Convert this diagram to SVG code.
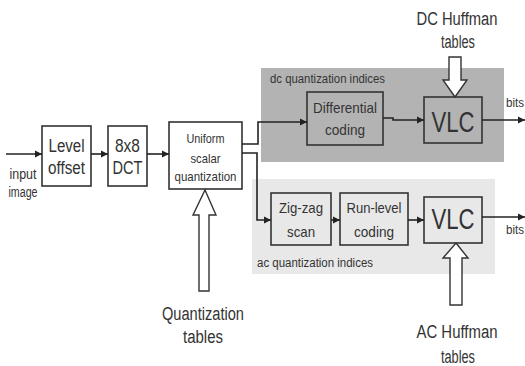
<svg xmlns="http://www.w3.org/2000/svg" width="525" height="366" viewBox="0 0 525 366">
<style>
text{font-family:"Liberation Sans Narrow","Liberation Sans",Arial,sans-serif;fill:#333;text-anchor:middle}
.box{fill:none;stroke:#333;stroke-width:1.6}
.wbox{fill:#fff;stroke:#333;stroke-width:1.6}
.line{fill:none;stroke:#222;stroke-width:1.6}
.hollow{fill:#fff;stroke:#333;stroke-width:1.4}
.s{text-anchor:start}
</style>
<defs>
<marker id="ah" markerWidth="8" markerHeight="8" refX="7" refY="4" orient="auto" markerUnits="userSpaceOnUse">
<path d="M0,0.5 L7,4 L0,7.5 Z" fill="#222"/>
</marker>
</defs>
<g id="regions">
<rect x="261" y="68" width="243" height="94" fill="#b3b3b3"/>
<rect x="252" y="179" width="243" height="95" fill="#e8e8e8"/>
<text class="s" x="270" y="83" font-size="12" textLength="115" lengthAdjust="spacingAndGlyphs">dc quantization indices</text>
<text class="s" x="257" y="267" font-size="12" textLength="116" lengthAdjust="spacingAndGlyphs">ac quantization indices</text>
</g>
<g id="input">
<text x="23" y="179" font-size="14" textLength="27" lengthAdjust="spacingAndGlyphs">input</text>
<text x="23" y="197" font-size="14" textLength="29" lengthAdjust="spacingAndGlyphs">image</text>
</g>
<g id="level">
<rect class="wbox" x="42" y="126" width="49" height="60"/>
<text x="66.5" y="152" font-size="18" textLength="36" lengthAdjust="spacingAndGlyphs">Level</text>
<text x="66.5" y="174" font-size="18" textLength="37" lengthAdjust="spacingAndGlyphs">offset</text>
</g>
<g id="dct">
<rect class="wbox" x="108" y="126" width="39" height="60"/>
<text x="127.5" y="152" font-size="18" textLength="25" lengthAdjust="spacingAndGlyphs">8x8</text>
<text x="127.5" y="174" font-size="18" textLength="30" lengthAdjust="spacingAndGlyphs">DCT</text>
</g>
<g id="quant">
<rect class="wbox" x="169" y="122" width="73" height="67"/>
<text x="205.5" y="143" font-size="13" textLength="38" lengthAdjust="spacingAndGlyphs">Uniform</text>
<text x="205.5" y="163" font-size="13" textLength="30" lengthAdjust="spacingAndGlyphs">scalar</text>
<text x="205.5" y="181" font-size="13" textLength="62" lengthAdjust="spacingAndGlyphs">quantization</text>
</g>
<g id="qtables">
<path class="hollow" d="M205,190 L216,215 L209,215 L209,291 L199,291 L199,215 L193,215 Z"/>
<text x="203" y="320" font-size="18" textLength="82" lengthAdjust="spacingAndGlyphs">Quantization</text>
<text x="203" y="343" font-size="18" textLength="40" lengthAdjust="spacingAndGlyphs">tables</text>
</g>
<g id="diff">
<rect class="box" x="307" y="92" width="76" height="53"/>
<text x="345" y="113" font-size="15" textLength="64" lengthAdjust="spacingAndGlyphs">Differential</text>
<text x="345" y="135" font-size="15" textLength="40" lengthAdjust="spacingAndGlyphs">coding</text>
</g>
<g id="vlcdc">
<rect class="box" x="424" y="97" width="58" height="46"/>
<text x="453" y="132" font-size="30" textLength="43" lengthAdjust="spacingAndGlyphs">VLC</text>
</g>
<g id="dctables">
<text x="457" y="25" font-size="18" textLength="81" lengthAdjust="spacingAndGlyphs">DC Huffman</text>
<text x="458" y="48" font-size="18" textLength="34" lengthAdjust="spacingAndGlyphs">tables</text>
<path class="hollow" d="M455,97 L467,80 L461,80 L461,57 L449,57 L449,80 L443,80 Z"/>
</g>
<g id="zigzag">
<rect class="box" x="271" y="193" width="60" height="52"/>
<text x="301" y="213" font-size="15" textLength="44" lengthAdjust="spacingAndGlyphs">Zig-zag</text>
<text x="301" y="237" font-size="15" textLength="28" lengthAdjust="spacingAndGlyphs">scan</text>
</g>
<g id="runlevel">
<rect class="box" x="340" y="193" width="68" height="52"/>
<text x="374" y="213" font-size="15" textLength="55" lengthAdjust="spacingAndGlyphs">Run-level</text>
<text x="374" y="237" font-size="15" textLength="40" lengthAdjust="spacingAndGlyphs">coding</text>
</g>
<g id="vlcac">
<rect class="box" x="424" y="197" width="58" height="46"/>
<text x="453" y="229" font-size="30" textLength="43" lengthAdjust="spacingAndGlyphs">VLC</text>
</g>
<g id="actables">
<path class="hollow" d="M456,243 L468,258 L462,258 L462,305 L450,305 L450,258 L443,258 Z"/>
<text x="457" y="338" font-size="18" textLength="81" lengthAdjust="spacingAndGlyphs">AC Huffman</text>
<text x="458" y="363" font-size="18" textLength="34" lengthAdjust="spacingAndGlyphs">tables</text>
</g>
<g id="bits">
<text class="s" x="506" y="107" font-size="12" textLength="18" lengthAdjust="spacingAndGlyphs">bits</text>
<text class="s" x="506" y="234" font-size="12" textLength="18" lengthAdjust="spacingAndGlyphs">bits</text>
</g>
<g id="connectors">
<path class="line" d="M6,154 L42,154" marker-end="url(#ah)"/>
<path class="line" d="M91,154 L108,154" marker-end="url(#ah)"/>
<path class="line" d="M147,154 L169,154" marker-end="url(#ah)"/>
<path class="line" d="M242,144 L258,144 L258,122 L307,122" marker-end="url(#ah)"/>
<path class="line" d="M242,153 L257,153 L257,220 L271,220" marker-end="url(#ah)"/>
<path class="line" d="M383,118 L393,118 L393,120 L424,120" marker-end="url(#ah)"/>
<path class="line" d="M482,120 L525,120" marker-end="url(#ah)"/>
<path class="line" d="M331,220 L340,220" marker-end="url(#ah)"/>
<path class="line" d="M408,220 L424,220" marker-end="url(#ah)"/>
<path class="line" d="M482,217 L525,217" marker-end="url(#ah)"/>
</g>
</svg>
